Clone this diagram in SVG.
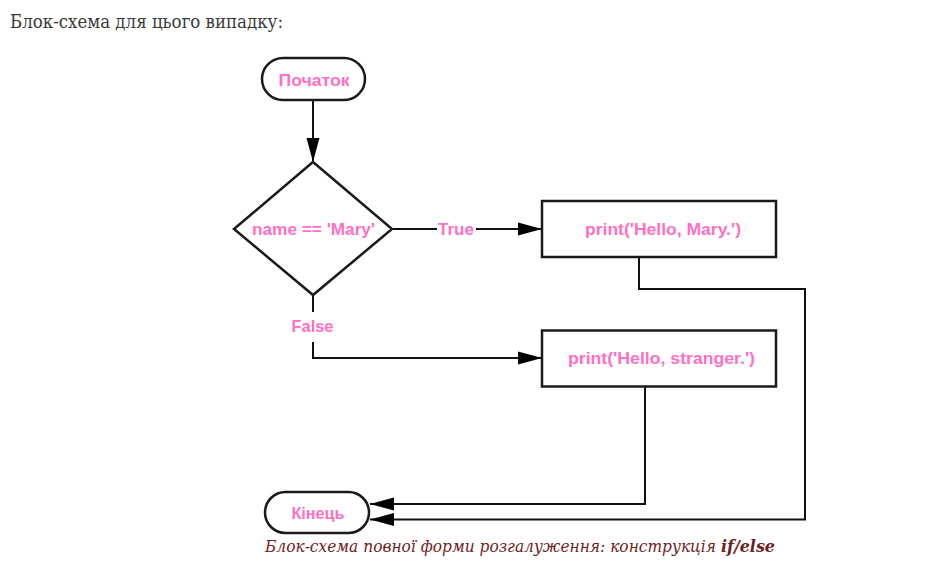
<svg xmlns="http://www.w3.org/2000/svg" width="940" height="575" viewBox="0 0 940 575">
  <style>
    .shape { fill: #ffffff; stroke: #1a1a1a; stroke-width: 2.5; }
    .conn { fill: none; stroke: #111111; stroke-width: 2; }
    .lbl { font-family: "Liberation Sans", Arial, sans-serif; font-size: 16px; font-weight: bold; fill: #ff70c2; text-anchor: middle; }
    .title { font-family: "DejaVu Serif", "Liberation Serif", serif; font-size: 18px; fill: #3a3a3a; }
    .cap { font-family: "DejaVu Serif", "Liberation Serif", serif; font-size: 17px; font-style: italic; fill: #6e1e1e; }
  </style>
  <defs>
    <marker id="arr" markerUnits="userSpaceOnUse" markerWidth="24" markerHeight="14" refX="24" refY="7" orient="auto">
      <path d="M0,0.5 L24,7 L0,13.5 Z" fill="#000000"/>
    </marker>
  </defs>
  <rect width="940" height="575" fill="#ffffff"/>

  <text class="title" x="10" y="28" textLength="273" lengthAdjust="spacingAndGlyphs">Блок-схема для цього випадку:</text>

  <g id="connectors">
    <path class="conn" d="M313,100 V162" marker-end="url(#arr)"/>
    <path class="conn" d="M392,229 H437"/>
    <path class="conn" d="M476,229 H542" marker-end="url(#arr)"/>
    <path class="conn" d="M313,295 V312"/>
    <path class="conn" d="M313,342 V358 H542" marker-end="url(#arr)"/>
    <path class="conn" d="M639,257 V289 H805 V519.5 H370" marker-end="url(#arr)"/>
    <path class="conn" d="M645,386.5 V504 H370" marker-end="url(#arr)"/>
    <text class="lbl" x="456" y="234.5" textLength="36" lengthAdjust="spacingAndGlyphs">True</text>
    <text class="lbl" x="312.5" y="332" textLength="42" lengthAdjust="spacingAndGlyphs">False</text>
  </g>

  <g id="start">
    <rect class="shape" x="262" y="58" width="103" height="42" rx="21" ry="21"/>
    <text class="lbl" x="314" y="85.5" textLength="71" lengthAdjust="spacingAndGlyphs">Початок</text>
  </g>

  <g id="decision">
    <polygon class="shape" points="313,162 392,229 313,295 234,229"/>
    <text class="lbl" x="313.5" y="235" textLength="123" lengthAdjust="spacingAndGlyphs">name == 'Mary'</text>
  </g>

  <g id="print-mary">
    <rect class="shape" x="542" y="201" width="234" height="56"/>
    <text class="lbl" x="663" y="234.5" textLength="156" lengthAdjust="spacingAndGlyphs">print('Hello, Mary.')</text>
  </g>

  <g id="print-stranger">
    <rect class="shape" x="542" y="330.5" width="234" height="56"/>
    <text class="lbl" x="661.5" y="364" textLength="187" lengthAdjust="spacingAndGlyphs">print('Hello, stranger.')</text>
  </g>

  <g id="end">
    <rect class="shape" x="265" y="492" width="104" height="41" rx="20.5" ry="20.5"/>
    <text class="lbl" x="318" y="518.5" textLength="53" lengthAdjust="spacingAndGlyphs">Кінець</text>
  </g>

  <text class="cap" x="265" y="552"><tspan textLength="451" lengthAdjust="spacingAndGlyphs">Блок-схема повної форми розгалуження: конструкція</tspan><tspan x="721" font-weight="bold" textLength="54" lengthAdjust="spacingAndGlyphs">if/else</tspan></text>
</svg>
